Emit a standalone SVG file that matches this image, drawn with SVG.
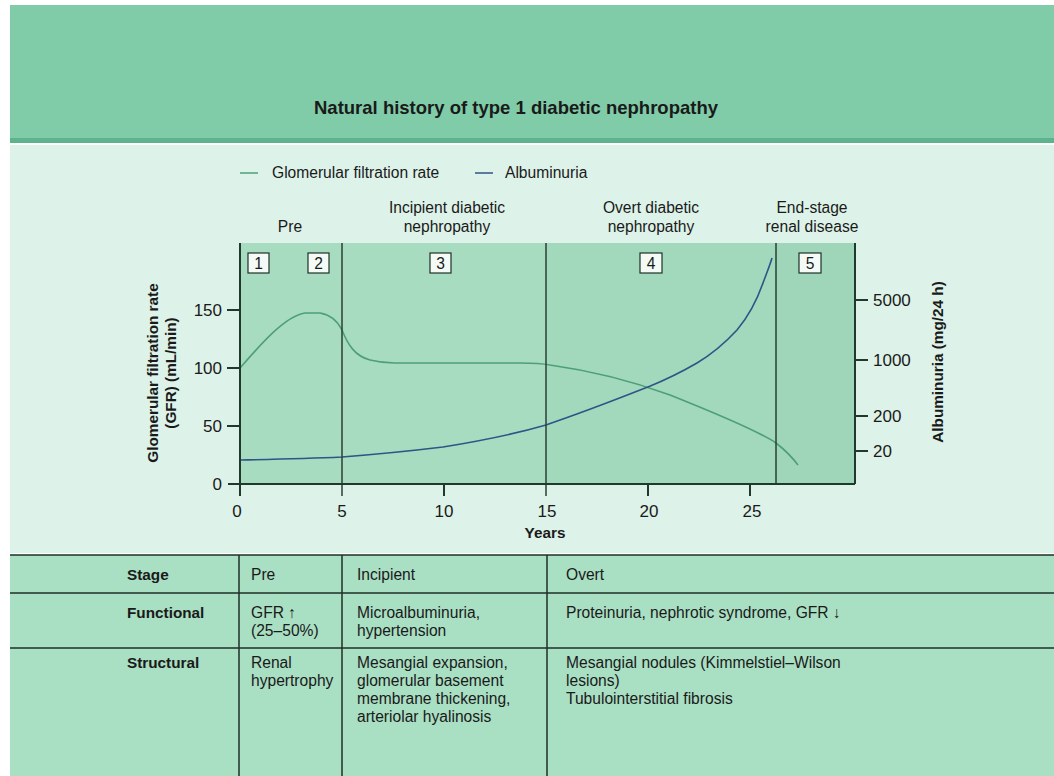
<svg xmlns="http://www.w3.org/2000/svg" width="1054" height="776" viewBox="0 0 1054 776">
<defs>
<style>
text{font-family:"Liberation Sans",Arial,sans-serif;fill:#1a1a1a}
.t{font-size:15.6px}
.n{font-size:17px}
.b{font-weight:bold;font-size:15.3px}
.ax{stroke:#1f3a2c;stroke-width:2;fill:none}
.grid{stroke:#2a3f33;stroke-width:1.5;fill:none}
.box{fill:#f4fbf7;stroke:#1f2f27;stroke-width:1.2}
.tl{stroke:#1f2f27;stroke-width:1.5}
</style>
</defs>
<rect x="0" y="0" width="1054" height="776" fill="#ffffff"/>
<g id="header">
<rect x="10" y="5" width="1044" height="138" fill="#80cca9"/>
<rect x="10" y="138" width="1044" height="5" fill="#5db48c"/>
<text x="516" y="114" text-anchor="middle" font-weight="bold" font-size="18.5">Natural history of type 1 diabetic nephropathy</text>
</g>
<rect x="10" y="145" width="1044" height="408" fill="#ddf2e8"/>
<g id="legend">
<line x1="240" y1="173" x2="258" y2="173" stroke="#4e9f78" stroke-width="1.5"/>
<text x="272" y="178" class="t">Glomerular filtration rate</text>
<line x1="475" y1="173" x2="493" y2="173" stroke="#2f5487" stroke-width="1.5"/>
<text x="505" y="178" class="t">Albuminuria</text>
</g>
<g id="plot">
<rect x="240" y="243" width="615" height="241" fill="#a7dcc0"/>
<rect x="547" y="243" width="229" height="241" fill="#a2d9bc"/>
<rect x="776" y="243" width="79" height="241" fill="#9fd6b9"/>
</g>
<g id="stage-labels">
<text x="290" y="232" text-anchor="middle" class="t">Pre</text>
<text x="447" y="213" text-anchor="middle" class="t">Incipient diabetic</text>
<text x="447" y="232" text-anchor="middle" class="t">nephropathy</text>
<text x="651" y="213" text-anchor="middle" class="t">Overt diabetic</text>
<text x="651" y="232" text-anchor="middle" class="t">nephropathy</text>
<text x="812" y="213" text-anchor="middle" class="t">End-stage</text>
<text x="812" y="232" text-anchor="middle" class="t">renal disease</text>
</g>
<g id="stage-boxes">
<rect x="248" y="253" width="21" height="20" class="box"/><text x="258.5" y="269" text-anchor="middle" class="t">1</text>
<rect x="308" y="253" width="21" height="20" class="box"/><text x="318.5" y="269" text-anchor="middle" class="t">2</text>
<rect x="430" y="253" width="21" height="20" class="box"/><text x="440.5" y="269" text-anchor="middle" class="t">3</text>
<rect x="640" y="253" width="22" height="20" class="box"/><text x="651" y="269" text-anchor="middle" class="t">4</text>
<rect x="799" y="253" width="22" height="20" class="box"/><text x="810" y="269" text-anchor="middle" class="t">5</text>
</g>
<g id="connectors">
<path d="M240,368 C260,345 285,316 305,313 L320,313 C332,315 338,322 342,330 C348,345 355,356 370,360 C378,362 385,363 395,363 L520,363 C535,363 545,364 550,365 C600,372 640,384 670,395 C720,415 760,432 776,443 C785,450 792,457 798,465" fill="none" stroke="#4e9f78" stroke-width="1.6"/>
<path d="M240,460 C290,459 320,458 342,457 C380,454 410,451 443,447 C480,441 515,434 546,425 C590,410 620,398 648,387 C670,378 685,370 697,363 C712,354 725,343 737,330 C748,317 757,300 763,283 C767,272 770,265 772,258" fill="none" stroke="#2f5487" stroke-width="1.6"/>
</g>
<g id="axes">
<line x1="240" y1="243" x2="240" y2="496" class="ax"/>
<line x1="342" y1="243" x2="342" y2="496" class="grid"/>
<line x1="546" y1="243" x2="546" y2="496" class="grid"/>
<line x1="776" y1="243" x2="776" y2="484" class="grid"/>
<line x1="855" y1="243" x2="855" y2="484" class="ax"/>
<line x1="228" y1="484" x2="855" y2="484" class="ax"/>
<line x1="444" y1="484" x2="444" y2="496" class="ax"/>
<line x1="648" y1="484" x2="648" y2="496" class="ax"/>
<line x1="750" y1="484" x2="750" y2="496" class="ax"/>
<line x1="227" y1="310" x2="240" y2="310" class="ax"/>
<line x1="227" y1="368" x2="240" y2="368" class="ax"/>
<line x1="227" y1="426" x2="240" y2="426" class="ax"/>
<line x1="855" y1="300" x2="868" y2="300" class="ax"/>
<line x1="855" y1="360" x2="868" y2="360" class="ax"/>
<line x1="855" y1="416" x2="868" y2="416" class="ax"/>
<line x1="855" y1="451" x2="868" y2="451" class="ax"/>
</g>
<g id="tick-labels">
<text x="222" y="316" text-anchor="end" class="n">150</text>
<text x="222" y="374" text-anchor="end" class="n">100</text>
<text x="222" y="432" text-anchor="end" class="n">50</text>
<text x="222" y="490" text-anchor="end" class="n">0</text>
<text x="237" y="517" text-anchor="middle" class="n">0</text>
<text x="342" y="517" text-anchor="middle" class="n">5</text>
<text x="444" y="517" text-anchor="middle" class="n">10</text>
<text x="547" y="517" text-anchor="middle" class="n">15</text>
<text x="649" y="517" text-anchor="middle" class="n">20</text>
<text x="752" y="517" text-anchor="middle" class="n">25</text>
<text x="545" y="538" text-anchor="middle" class="b">Years</text>
<text x="873" y="306" class="n">5000</text>
<text x="873" y="366" class="n">1000</text>
<text x="873" y="422" class="n">200</text>
<text x="873" y="457" class="n">20</text>
<text transform="translate(158,373) rotate(-90)" text-anchor="middle" class="b">Glomerular filtration rate</text>
<text transform="translate(176,373) rotate(-90)" text-anchor="middle" class="b">(GFR) (mL/min)</text>
<text transform="translate(943,362) rotate(-90)" text-anchor="middle" class="b">Albuminuria (mg/24 h)</text>
</g>
<g id="table">
<rect x="10" y="555" width="1044" height="221" fill="#a9dfc3"/>
<line x1="10" y1="555" x2="1054" y2="555" class="tl"/>
<line x1="10" y1="593" x2="1054" y2="593" class="tl"/>
<line x1="10" y1="648" x2="1054" y2="648" class="tl"/>
<line x1="239" y1="555" x2="239" y2="776" class="tl"/>
<line x1="342" y1="555" x2="342" y2="776" class="tl"/>
<line x1="547" y1="555" x2="547" y2="776" class="tl"/>
<text x="127" y="580" class="b">Stage</text>
<text x="127" y="618" class="b">Functional</text>
<text x="127" y="668" class="b">Structural</text>
<text x="251" y="580" class="t">Pre</text>
<text x="251" y="618" class="t">GFR ↑</text>
<text x="251" y="636" class="t">(25–50%)</text>
<text x="251" y="668" class="t">Renal</text>
<text x="251" y="686" class="t">hypertrophy</text>
<text x="357" y="580" class="t">Incipient</text>
<text x="357" y="618" class="t">Microalbuminuria,</text>
<text x="357" y="636" class="t">hypertension</text>
<text x="357" y="668" class="t">Mesangial expansion,</text>
<text x="357" y="686" class="t">glomerular basement</text>
<text x="357" y="704" class="t">membrane thickening,</text>
<text x="357" y="722" class="t">arteriolar hyalinosis</text>
<text x="566" y="580" class="t">Overt</text>
<text x="566" y="618" class="t">Proteinuria, nephrotic syndrome, GFR ↓</text>
<text x="566" y="668" class="t">Mesangial nodules (Kimmelstiel–Wilson</text>
<text x="566" y="686" class="t">lesions)</text>
<text x="566" y="704" class="t">Tubulointerstitial fibrosis</text>
</g>
</svg>
